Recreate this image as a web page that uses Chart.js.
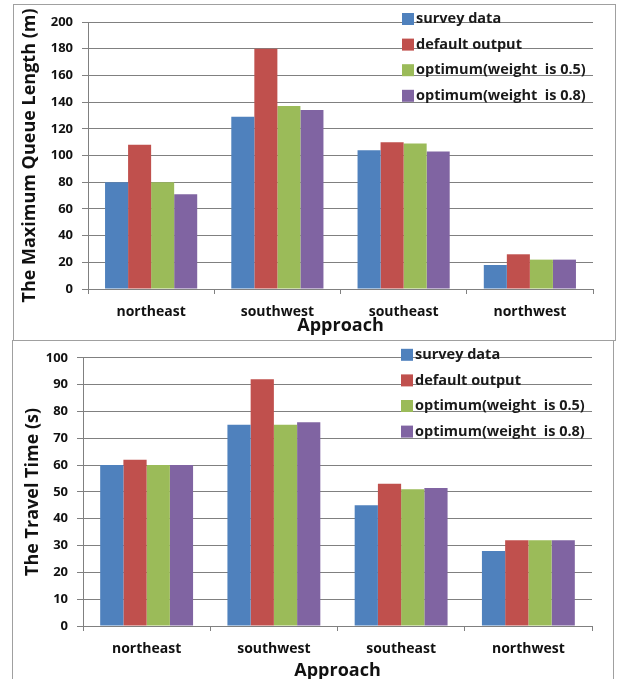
<!DOCTYPE html>
<html>
<head>
<meta charset="utf-8">
<script src="https://cdn.jsdelivr.net/npm/chart.js@4/dist/chart.umd.min.js"></script>
<style>
  body { margin: 0; background: #fff; }
  .frame { position: absolute; border: 1px solid #a0a0a0; box-sizing: border-box; }
  #top-frame { left: 13px; top: 4px; width: 603px; height: 337px; }
  #bottom-frame { left: 12px; top: 340px; width: 602px; height: 345px; }
  canvas { display: block; }
</style>
</head>
<body>
<div class="frame" id="top-frame"><canvas id="queue-chart"></canvas></div>
<div class="frame" id="bottom-frame"><canvas id="travel-chart"></canvas></div>
<script>
// Categories and series
const approaches = ["northeast", "southwest", "southeast", "northwest"];
const seriesNames = ["survey data", "default output", "optimum(weight  is 0.5)", "optimum(weight  is 0.8)"];
const seriesColors = ["#4F81BD", "#C0504D", "#9BBB59", "#8064A2"];

// Maximum queue length (m)
const queueSurvey = [80, 129, 104, 18];
const queueDefault = [108, 180, 110, 26];
const queueOpt05 = [80, 137, 109, 22];
const queueOpt08 = [71, 134, 103, 22];

// Travel time (s)
const travelSurvey = [60, 75, 45, 28];
const travelDefault = [62, 92, 53, 32];
const travelOpt05 = [60, 75, 51, 32];
const travelOpt08 = [60, 76, 51.5, 32];

const fontFamily = "'Open Sans', sans-serif";
const gridColor = "#808080";

// legend drawn inside the plot area, over the grid lines
const insideLegend = {
  id: "insideLegend",
  afterDraw(chart) {
    const ctx = chart.ctx;
    const area = chart.chartArea;
    const x = area.right - 191;
    ctx.save();
    ctx.font = "bold 14.5px " + fontFamily;
    ctx.textBaseline = "middle";
    chart.data.datasets.forEach((ds, i) => {
      const y = area.top - 3 + i * 25.6;
      ctx.fillStyle = ds.backgroundColor;
      ctx.fillRect(x, y - 6, 12, 12);
      ctx.fillStyle = "#1a1a1a";
      ctx.fillText(ds.label, x + 14, y);
    });
    ctx.restore();
  }
};

function makeChart(canvasId, w, h, values, yMax, yStep, yTitle, box) {
  const canvas = document.getElementById(canvasId);
  canvas.width = w;
  canvas.height = h;
  canvas.style.width = w + "px";
  canvas.style.height = h + "px";

  return new Chart(canvas.getContext("2d"), {
    type: "bar",
    data: {
      labels: approaches,
      datasets: values.map((vals, i) => ({
        label: seriesNames[i],
        data: vals,
        backgroundColor: seriesColors[i],
        borderWidth: 0,
        barPercentage: 1,
        categoryPercentage: 0.73
      }))
    },
    plugins: [insideLegend],
    options: {
      responsive: false,
      animation: false,
      layout: { padding: { left: 0, top: box.top, right: box.right, bottom: 0 } },
      plugins: { legend: { display: false }, tooltip: { enabled: false } },
      scales: {
        x: {
          grid: { drawOnChartArea: false, drawTicks: true, tickLength: 5, color: gridColor },
          border: { color: gridColor },
          ticks: { color: "#111", padding: 10, font: { family: fontFamily, size: 14, weight: "bold" } },
          title: {
            display: true, text: "Approach", color: "#111",
            font: { family: fontFamily, size: 18, weight: "bold", lineHeight: 1.2 },
            padding: { top: 0, bottom: box.titleBottom }
          },
          afterFit: (scale) => { scale.height = box.xHeight; }
        },
        y: {
          min: 0, max: yMax,
          grid: { color: gridColor, tickLength: 6 },
          border: { color: gridColor },
          ticks: { stepSize: yStep, color: "#111", padding: 9, font: { family: fontFamily, size: 13, weight: "bold" } },
          title: {
            display: true, text: yTitle, color: "#111",
            font: { family: fontFamily, size: 18, weight: "bold", lineHeight: 1.2 },
            padding: { top: box.titleLeft, bottom: 0 }
          },
          afterFit: (scale) => { scale.width = box.yWidth; }
        }
      }
    }
  });
}

makeChart("queue-chart", 601, 335,
  [queueSurvey, queueDefault, queueOpt05, queueOpt08], 200, 20,
  "The Maximum Queue Length (m)",
  { top: 17, right: 22, yWidth: 74, xHeight: 51, titleBottom: 3, titleLeft: 5 });

makeChart("travel-chart", 600, 343,
  [travelSurvey, travelDefault, travelOpt05, travelOpt08], 100, 10,
  "The Travel Time (s)",
  { top: 16, right: 21, yWidth: 70, xHeight: 58, titleBottom: 2, titleLeft: 9 });
</script>
</body>
</html>
